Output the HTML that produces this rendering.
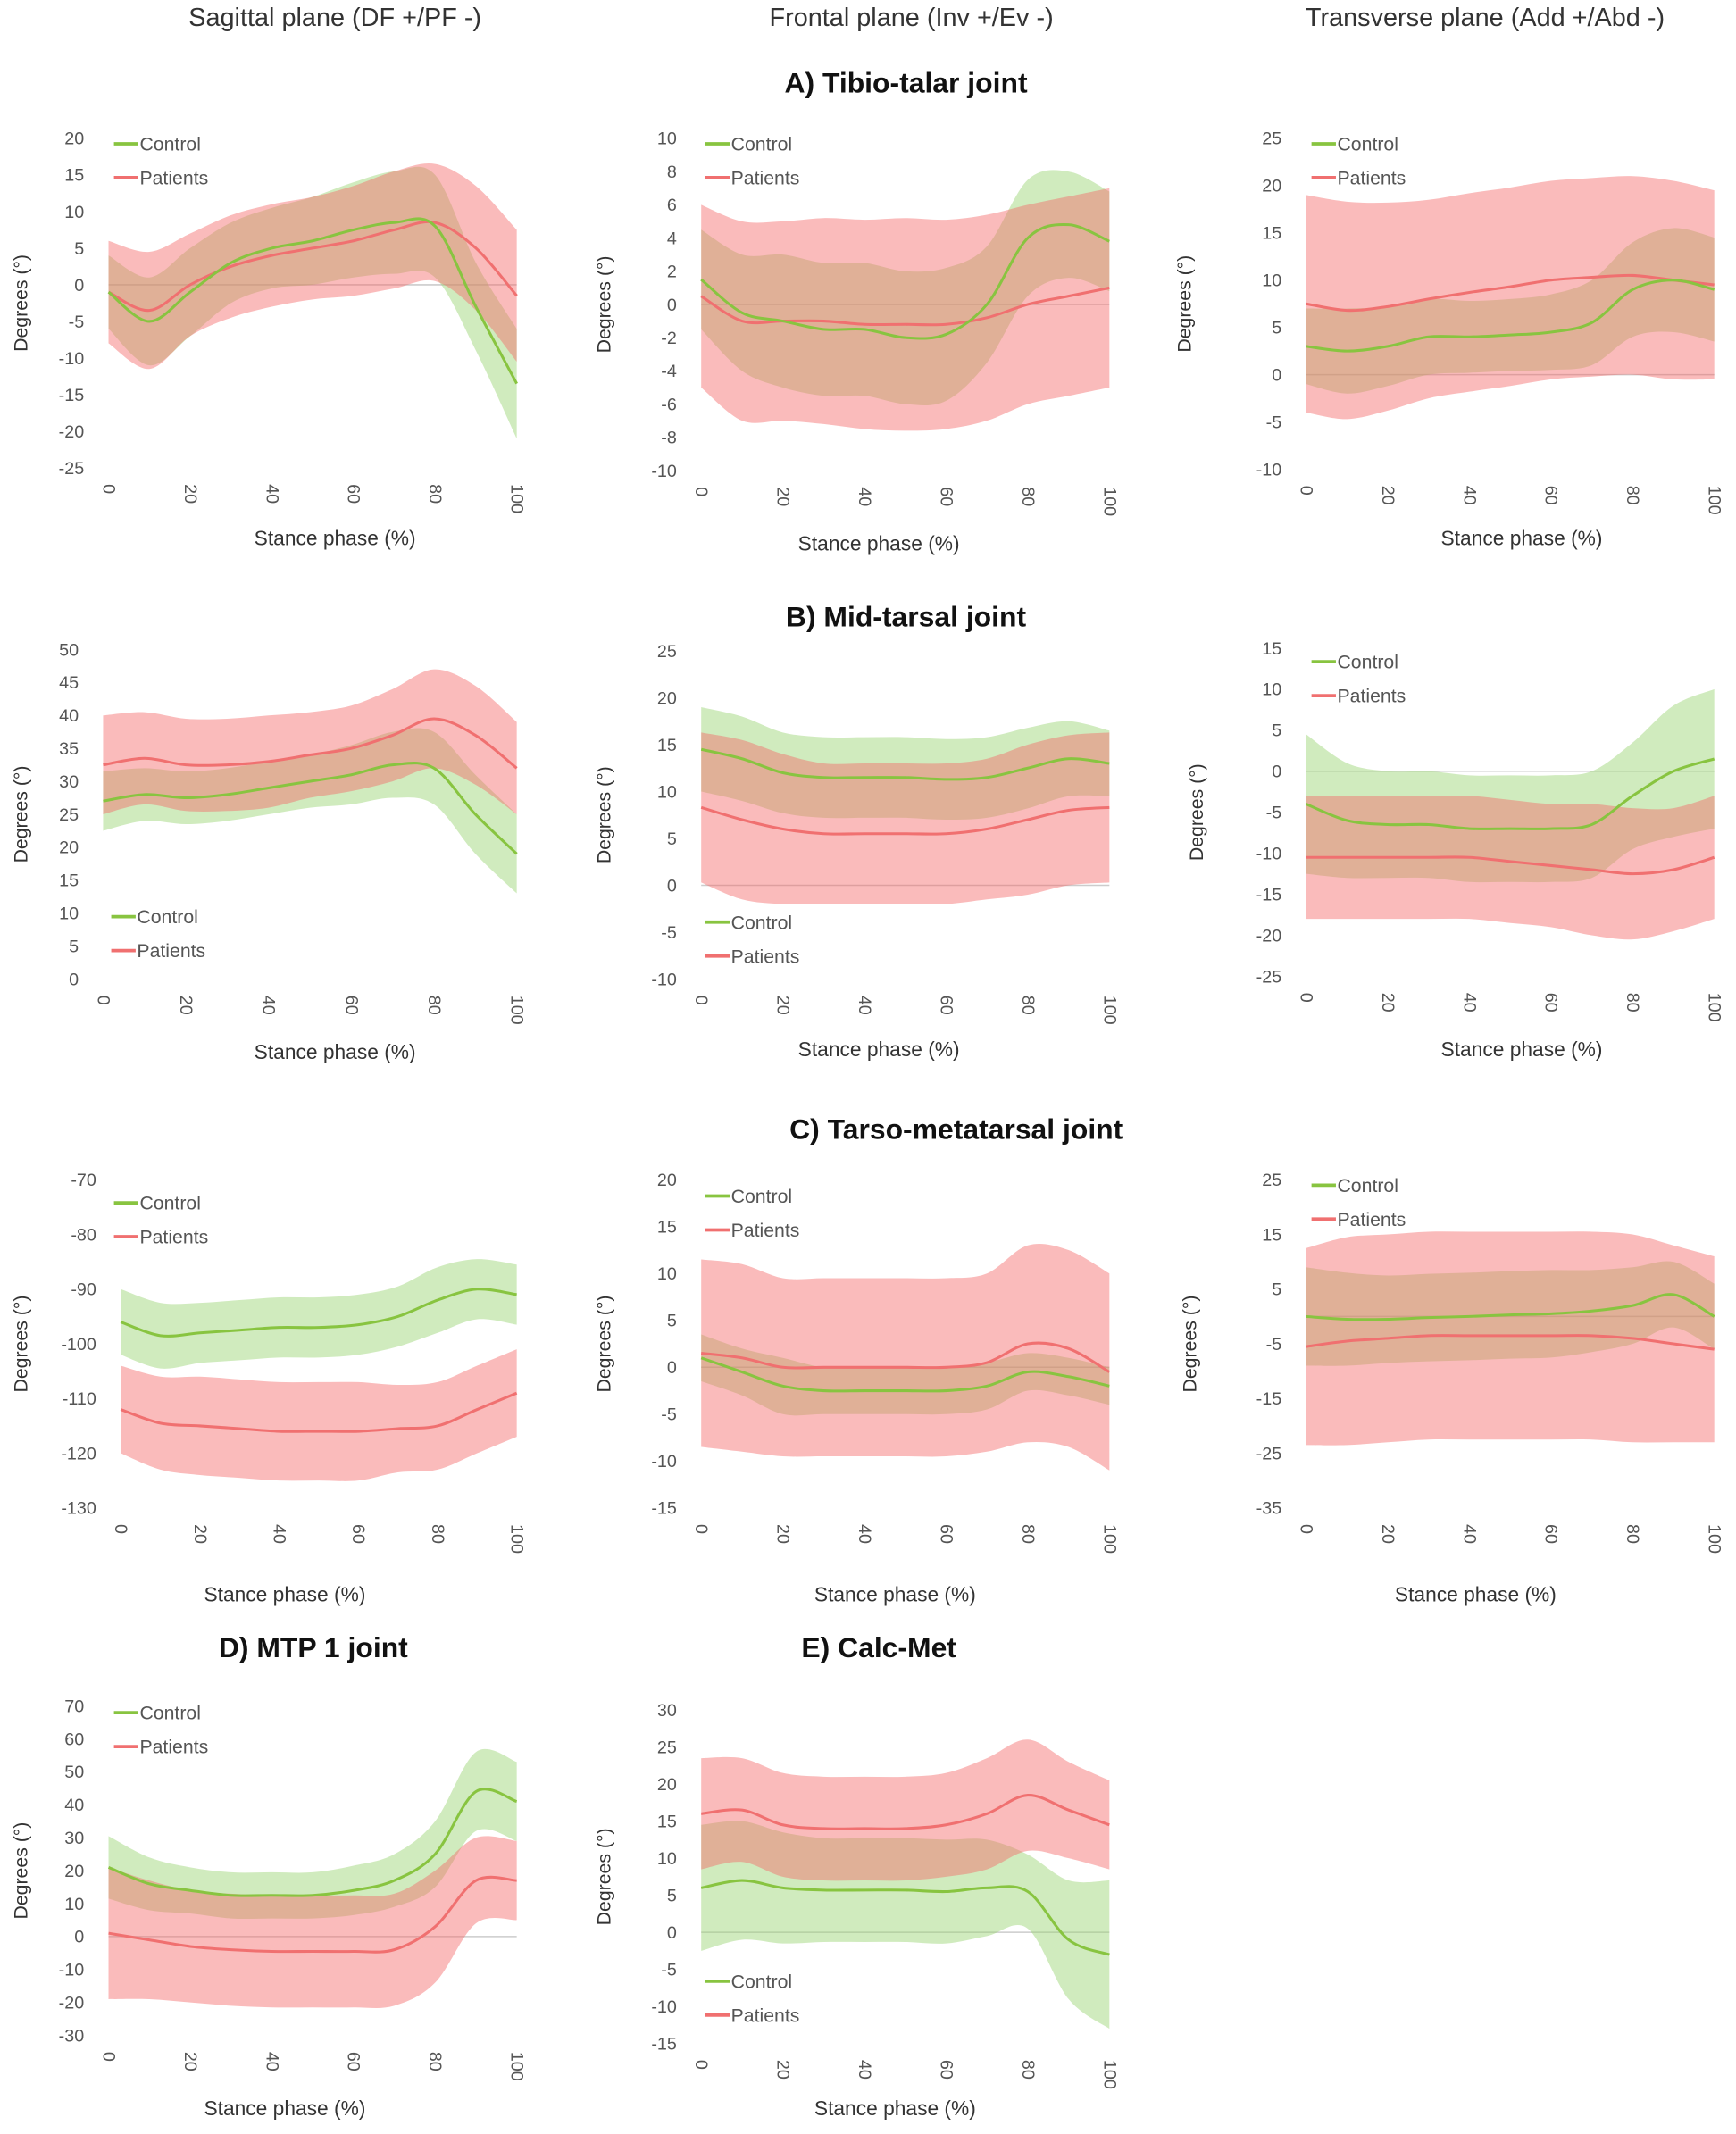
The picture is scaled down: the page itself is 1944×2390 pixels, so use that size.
<!DOCTYPE html>
<html><head><meta charset="utf-8"><style>
body{margin:0;background:#fff}
svg{display:block;font-family:"Liberation Sans",sans-serif}
</style></head><body>
<svg id="fig" width="1944" height="2390" viewBox="0 0 1280 1573.7" xmlns="http://www.w3.org/2000/svg">
<g font-size="19" fill="#333" text-anchor="middle">
<text x="247" y="19">Sagittal plane (DF +/PF -)</text>
<text x="672" y="19">Frontal plane (Inv +/Ev -)</text>
<text x="1095" y="19">Transverse plane (Add +/Abd -)</text>
</g>
<g font-size="21" font-weight="bold" fill="#111" text-anchor="middle">
<text x="668" y="68">A) Tibio-talar joint</text>
<text x="668" y="462">B) Mid-tarsal joint</text>
<text x="705" y="840">C) Tarso-metatarsal joint</text>
<text x="231" y="1222">D) MTP 1 joint</text>
<text x="648" y="1222">E) Calc-Met</text>
</g>
</svg>
<script>
const xs=[0,10,20,30,40,50,60,70,80,90,100];
const a1cM=[-1,-5,-1,3,5,6,7.5,8.5,8,-3,-13.5], a1cS=[5,6,6,5.5,5.5,6,6.5,7,7,6,7.5];
const a1pM=[-1,-3.5,0,2.5,4,5,6,7.5,8.5,5,-1.5], a1pS=[7,8,7,7,7,7,7.5,8,8,8.5,9];
const a2cM=[1.5,-0.5,-1,-1.5,-1.5,-2,-1.8,0,4,4.8,3.8], a2cS=[3,3.5,4,4,4,4,4,3.5,3.5,3.2,3];
const a2pM=[0.5,-1,-1,-1,-1.2,-1.2,-1.2,-0.8,0,0.5,1], a2pS=[5.5,6,6,6.2,6.3,6.4,6.3,6.2,6,6,6];
const a3cM=[3,2.5,3,4,4,4.2,4.5,5.5,9,10,9], a3cS=[4,4.5,4.2,4,3.8,3.8,4,4.5,5,5.5,5.5];
const a3pM=[7.5,6.8,7.2,8,8.7,9.3,10,10.3,10.5,10,9.5], a3pS=[11.5,11.5,11,10.5,10.5,10.5,10.5,10.5,10.5,10.5,10];
const b1cM=[27,28,27.5,28,29,30,31,32.5,32,25,19], b1cS=[4.5,4,4,4,4,4,4.5,5,5.5,6,6];
const b1pM=[32.5,33.5,32.5,32.5,33,34,35,37,39.5,37,32], b1pS=[7.5,7,7,7,7,6.5,6.5,7,7.5,7.5,7];
const b2cM=[14.5,13.5,12,11.5,11.5,11.5,11.3,11.5,12.5,13.5,13], b2cS=[4.5,4.5,4.3,4.3,4.3,4.3,4.3,4.3,4.3,4,3.5];
const b2pM=[8.3,7,6,5.5,5.5,5.5,5.5,6,7,8,8.3], b2pS=[8,8.5,8,7.5,7.5,7.5,7.5,7.5,8,8,8];
const b3cM=[-4,-6,-6.5,-6.5,-7,-7,-7,-6.5,-3,0,1.5], b3cS=[8.5,7,6.5,6.5,6.5,6.5,6.5,6.5,6.5,8,8.5];
const b3pM=[-10.5,-10.5,-10.5,-10.5,-10.5,-11,-11.5,-12,-12.5,-12,-10.5], b3pS=[7.5,7.5,7.5,7.5,7.5,7.5,7.5,8,8,7.5,7.5];
const c1cM=[-96,-98.5,-98,-97.5,-97,-97,-96.5,-95,-92,-90,-91], c1cS=[6,6,5.5,5.5,5.5,5.5,5.5,5.5,6,5.5,5.5];
const c1pM=[-112,-114.5,-115,-115.5,-116,-116,-116,-115.5,-115,-112,-109], c1pS=[8,8.5,9,9,9,9,9,8,8,8,8];
const c2cM=[1,-0.5,-2,-2.5,-2.5,-2.5,-2.5,-2,-0.5,-1,-2], c2cS=[2.5,2.5,3,2.5,2.5,2.5,2.5,2.5,2,2,2];
const c2pM=[1.5,1,0,0,0,0,0,0.5,2.5,2,-0.5], c2pS=[10,10,9.5,9.5,9.5,9.5,9.5,9.5,10.5,10.5,10.5];
const c3cM=[0,-0.5,-0.5,-0.2,0,0.3,0.5,1,2,4,0], c3cS=[9,8.5,8,8,8,8,8,7.5,7,6,6];
const c3pM=[-5.5,-4.5,-4,-3.5,-3.5,-3.5,-3.5,-3.5,-4,-5,-6], c3pS=[18,19,19,19,19,19,19,19,19,18,17];
const dcM=[21,16,14,12.5,12.5,12.5,14,17,25,44,41], dcS=[9.5,8,7,7,7,7,7.5,8,10,12,12];
const dpM=[1,-1,-3,-4,-4.5,-4.5,-4.5,-4,3,17,17], dpS=[20,18,17,17,17,17,17,17,17,13,12];
const ecM=[6,7,6,5.7,5.7,5.7,5.5,6,5.5,-1,-3], ecS=[8.5,8,7.5,7,7,7,7,6.5,5,8,10];
const epM=[16,16.5,14.5,14,14,14,14.5,16,18.5,16.5,14.5], epS=[7.5,7,7,7,7,7,7,7.5,7.5,6.5,6];
const xTicks=[0,20,40,60,80,100];

const panels=[
 {n:'a1',x0:80,x1:381,yT:102,yB:345,vT:20,vB:-25,st:5,cM:a1cM,cS:a1cS,pM:a1pM,pS:a1pS,lx:84,ly:106,sx:247,sy:402,dx:15},
 {n:'a2',x0:517,x1:818,yT:102,yB:347,vT:10,vB:-10,st:2,cM:a2cM,cS:a2cS,pM:a2pM,pS:a2pS,lx:520,ly:106,sx:648,sy:406,dx:445},
 {n:'a3',x0:963,x1:1264,yT:102,yB:346,vT:25,vB:-10,st:5,cM:a3cM,cS:a3cS,pM:a3pM,pS:a3pS,lx:967,ly:106,sx:1122,sy:402,dx:873},
 {n:'b1',x0:76,x1:381,yT:479,yB:722,vT:50,vB:0,st:5,cM:b1cM,cS:b1cS,pM:b1pM,pS:b1pS,lx:82,ly:676,sx:247,sy:781,dx:15},
 {n:'b2',x0:517,x1:818,yT:480,yB:722,vT:25,vB:-10,st:5,cM:b2cM,cS:b2cS,pM:b2pM,pS:b2pS,lx:520,ly:680,sx:648,sy:779,dx:445},
 {n:'b3',x0:963,x1:1264,yT:478,yB:720,vT:15,vB:-25,st:5,cM:b3cM,cS:b3cS,pM:b3pM,pS:b3pS,lx:967,ly:488,sx:1122,sy:779,dx:882},
 {n:'c1',x0:89,x1:381,yT:870,yB:1112,vT:-70,vB:-130,st:10,cM:c1cM,cS:c1cS,pM:c1pM,pS:c1pS,lx:84,ly:887,sx:210,sy:1181,dx:15},
 {n:'c2',x0:517,x1:818,yT:870,yB:1112,vT:20,vB:-15,st:5,cM:c2cM,cS:c2cS,pM:c2pM,pS:c2pS,lx:520,ly:882,sx:660,sy:1181,dx:445},
 {n:'c3',x0:963,x1:1264,yT:870,yB:1112,vT:25,vB:-35,st:10,cM:c3cM,cS:c3cS,pM:c3pM,pS:c3pS,lx:967,ly:874,sx:1088,sy:1181,dx:877},
 {n:'d',x0:80,x1:381,yT:1258,yB:1501,vT:70,vB:-30,st:10,cM:dcM,cS:dcS,pM:dpM,pS:dpS,lx:84,ly:1263,sx:210,sy:1560,dx:15},
 {n:'e',x0:517,x1:818,yT:1261,yB:1507,vT:30,vB:-15,st:5,cM:ecM,cS:ecS,pM:epM,pS:epS,lx:520,ly:1461,sx:660,sy:1560,dx:445}
];
const NS='http://www.w3.org/2000/svg';
const svg=document.getElementById('fig');
function mk(tag,attrs,parent){const e=document.createElementNS(NS,tag);for(const k in attrs)e.setAttribute(k,attrs[k]);parent.appendChild(e);return e;}
function smooth(pts){let d='M'+pts[0][0]+','+pts[0][1];for(let i=0;i<pts.length-1;i++){const p0=pts[Math.max(0,i-1)],p1=pts[i],p2=pts[i+1],p3=pts[Math.min(pts.length-1,i+2)];const c1x=p1[0]+(p2[0]-p0[0])/6,c1y=p1[1]+(p2[1]-p0[1])/6,c2x=p2[0]-(p3[0]-p1[0])/6,c2y=p2[1]-(p3[1]-p1[1])/6;d+=' C'+c1x+','+c1y+' '+c2x+','+c2y+' '+p2[0]+','+p2[1];}return d;}
function smoothBack(pts){return smooth(pts).replace(/^M/,'L');}
panels.forEach(p=>{
 const g=mk('g',{},svg);
 
 
 const X=v=>p.x0+(v-0)/100*(p.x1-p.x0);
 const Y=v=>p.yT+(p.vT-v)/(p.vT-p.vB)*(p.yB-p.yT);
 for(let v=p.vB;v<=p.vT+1e-6;v+=p.st){
  const t=mk('text',{x:p.x0-18,y:Y(v)+4.5,'font-size':13,fill:'#555','text-anchor':'end'},g);
  t.textContent=v;
  
  
 }
 if(p.vB<0&&p.vT>0){const z=mk('line',{x1:p.x0,x2:p.x1,y1:Y(0),y2:Y(0),stroke:'#ccc','stroke-width':1},g);
  }
 xTicks.forEach(v=>{
  const t=mk('text',{x:0,y:0,'font-size':13,fill:'#555','text-anchor':'start',transform:'translate('+(X(v)-4)+','+(p.yB+12)+') rotate(90)'},g);
  t.textContent=v;
  
  
 });
 [['c',p.cM,p.cS,'rgba(150,210,110,0.45)'],['p',p.pM,p.pS,'rgba(245,105,105,0.45)']].forEach(s=>{
  const up=xs.map((x,i)=>[X(x),Y(s[1][i]+s[2][i])]);
  const lo=xs.map((x,i)=>[X(x),Y(s[1][i]-s[2][i])]).reverse();
  const band=mk('path',{d:smooth(up)+' '+smoothBack(lo)+' Z',fill:s[3]},g);
  
  
 });
 [['p',p.pM,'#f07070'],['c',p.cM,'#88c440']].forEach(s=>{
  const ln=mk('path',{d:smooth(xs.map((x,i)=>[X(x),Y(s[1][i])])),fill:'none',stroke:s[2],'stroke-width':2},g);
  
  
 });
 [['Control','#88c440',0],['Patients','#f07070',25]].forEach(l=>{
  const lg=mk('g',{},g);
  
  
  mk('line',{x1:p.lx,x2:p.lx+18,y1:p.ly+l[2],y2:p.ly+l[2],stroke:l[1],'stroke-width':2.5},lg);
  const t=mk('text',{x:p.lx+19,y:p.ly+l[2]+5,'font-size':14,fill:'#555'},lg);t.textContent=l[0];
 });
 const st=mk('text',{x:p.sx,y:p.sy,'font-size':15,fill:'#333','text-anchor':'middle'},g);
 st.textContent='Stance phase (%)';
 
 
 const cy=(p.yT+p.yB)/2;
 const dt=mk('text',{x:0,y:0,'font-size':14,fill:'#333','text-anchor':'middle',transform:'translate('+(p.dx+5)+','+cy+') rotate(-90)'},g);
 dt.textContent='Degrees (°)';
 
 
});
</script>
</body></html>
